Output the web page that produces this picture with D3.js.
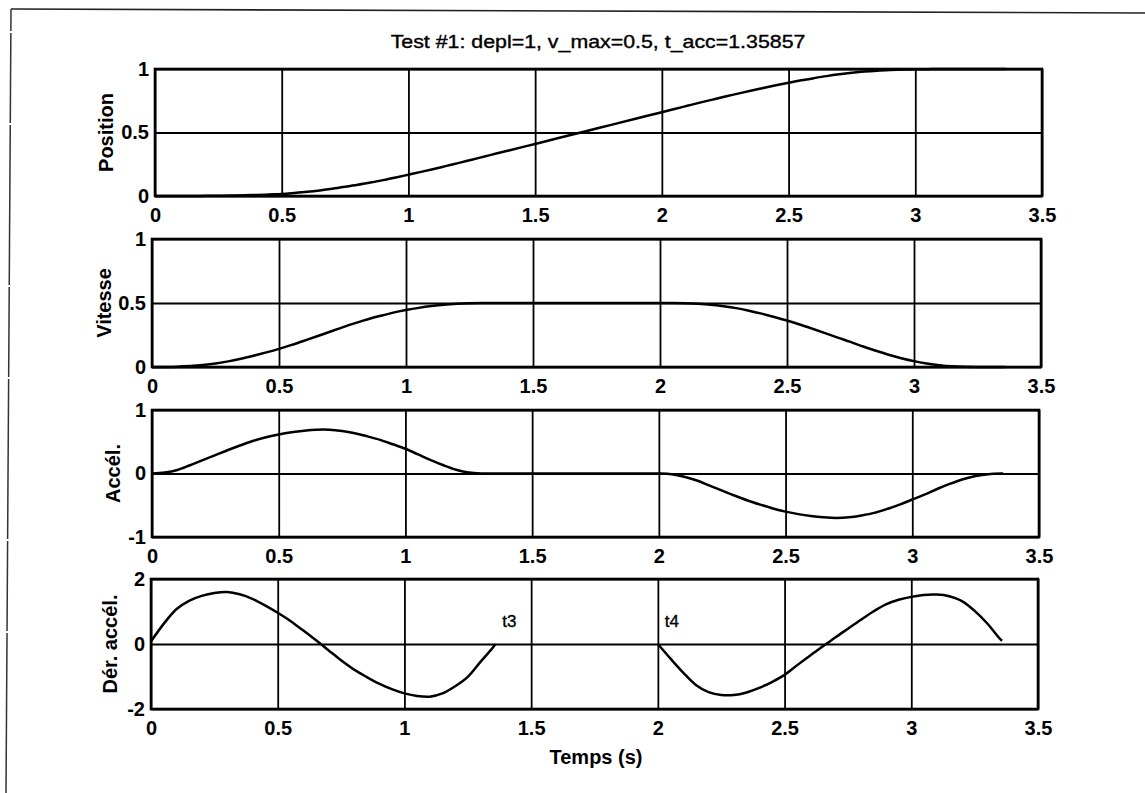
<!DOCTYPE html>
<html>
<head>
<meta charset="utf-8">
<script src="https://cdn.jsdelivr.net/npm/d3@7/dist/d3.min.js"></script>
<style>
  html, body { margin: 0; padding: 0; background: #fff; }
  svg { display: block; }
  text { font-family: "Liberation Sans", Arial, Helvetica, sans-serif; fill: #000; }
</style>
</head>
<body>
<svg id="fig" width="1145" height="793"></svg>
<script>
// Motion profile sampled in time (s): acceleration phase, constant-speed phase, deceleration phase
const temps = [0, 0.05, 0.1, 0.15, 0.2, 0.25, 0.3, 0.35, 0.4, 0.45, 0.5, 0.55, 0.6, 0.65, 0.7, 0.75,
               0.8, 0.85, 0.9, 0.95, 1.0, 1.05, 1.1, 1.15, 1.2, 1.25, 1.3, 1.35, 1.35857,
               1.4, 1.5, 1.6, 1.7, 1.8, 1.9,
               2.0, 2.05, 2.1, 2.15, 2.2, 2.25, 2.3, 2.35, 2.4, 2.45, 2.5, 2.55, 2.6, 2.65, 2.7, 2.75,
               2.8, 2.85, 2.9, 2.95, 3.0, 3.05, 3.1, 3.15, 3.2, 3.25, 3.3, 3.35, 3.35857];

const position = [0, 0, 0, 0, 0.001, 0.002, 0.003, 0.005, 0.008, 0.012, 0.016, 0.024, 0.033, 0.044, 0.057, 0.072,
                  0.088, 0.106, 0.125, 0.146, 0.168, 0.19, 0.213, 0.237, 0.261, 0.286, 0.311, 0.336, 0.34,
                  0.36, 0.41, 0.46, 0.51, 0.56, 0.61,
                  0.66, 0.685, 0.71, 0.735, 0.759, 0.783, 0.806, 0.829, 0.851, 0.872, 0.892, 0.911, 0.928, 0.944, 0.958, 0.97,
                  0.98, 0.987, 0.992, 0.996, 0.998, 0.999, 1, 1, 1, 1, 1, 1, 1];

const vitesse = [0, 0, 0.002, 0.007, 0.015, 0.027, 0.044, 0.064, 0.088, 0.114, 0.142, 0.173, 0.206, 0.24, 0.275, 0.31,
                 0.343, 0.373, 0.4, 0.425, 0.445, 0.462, 0.476, 0.487, 0.494, 0.498, 0.5, 0.5, 0.5,
                 0.5, 0.5, 0.5, 0.5, 0.5, 0.5,
                 0.5, 0.5, 0.498, 0.494, 0.487, 0.475, 0.46, 0.44, 0.417, 0.391, 0.363, 0.332, 0.299, 0.265, 0.23, 0.196,
                 0.16, 0.127, 0.096, 0.069, 0.046, 0.028, 0.014, 0.005, 0.001, 0, 0, 0, 0];

const acceleration = [0, 0.015, 0.055, 0.13, 0.21, 0.29, 0.37, 0.445, 0.515, 0.57, 0.615, 0.65, 0.675, 0.69, 0.69, 0.67,
                      0.635, 0.585, 0.53, 0.46, 0.39, 0.3, 0.21, 0.13, 0.06, 0.015, 0, 0, 0,
                      0, 0, 0, 0, 0, 0,
                      0, -0.01, -0.05, -0.11, -0.19, -0.27, -0.35, -0.425, -0.49, -0.55, -0.6, -0.64, -0.67, -0.69, -0.7, -0.69,
                      -0.66, -0.62, -0.56, -0.49, -0.41, -0.33, -0.24, -0.16, -0.09, -0.04, -0.01, 0, 0];

// Jerk: two separate arcs (t = 0 .. t3 and t4 .. t4 + t_acc)
const derAcceleration = [0.08, 0.62, 1.07, 1.33, 1.48, 1.57, 1.6, 1.53, 1.39, 1.19, 0.96, 0.71, 0.42, 0.12, -0.19, -0.5,
                         -0.78, -1.01, -1.22, -1.39, -1.52, -1.6, -1.62, -1.52, -1.3, -1.01, -0.55, -0.1, 0,
                         null, null, null, null, null, null,
                         0, -0.45, -0.88, -1.26, -1.48, -1.57, -1.57, -1.49, -1.35, -1.17, -0.95, -0.65, -0.36, -0.08, 0.2, 0.47,
                         0.74, 1.0, 1.22, 1.36, 1.45, 1.51, 1.52, 1.47, 1.32, 1.02, 0.63, 0.16, 0.1];

const xTicks = [0, 0.5, 1, 1.5, 2, 2.5, 3, 3.5];
const xTickLabels = ["0", "0.5", "1", "1.5", "2", "2.5", "3", "3.5"];

const yTicksPosition = [0, 0.5, 1];
const yLabelsPosition = ["0", "0.5", "1"];
const yTicksVitesse = [0, 0.5, 1];
const yLabelsVitesse = ["0", "0.5", "1"];
const yTicksAccel = [-1, 0, 1];
const yLabelsAccel = ["-1", "0", "1"];
const yTicksDer = [-2, 0, 2];
const yLabelsDer = ["-2", "0", "2"];

const titresY = ["Position", "Vitesse", "Accél.", "Dér. accél."];
const titre = "Test #1: depl=1, v_max=0.5, t_acc=1.35857";
const titreX = "Temps (s)";

const tAcc = 1.35857;
const tDecel = 2;
const reperes = [
  { label: "t3", t: tAcc, v: 0.7 },
  { label: "t4", t: tDecel, v: 0.7 }
];

// ---- layout ----
const svg = d3.select("#fig");

const panneaux = [
  { serie: position, dom: [0, 1], ticks: yTicksPosition, labels: yLabelsPosition, titreY: titresY[0],
    top: 69, bottom: 196, left: 155, right: 1042, labelX: 106 },
  { serie: vitesse, dom: [0, 1], ticks: yTicksVitesse, labels: yLabelsVitesse, titreY: titresY[1],
    top: 239, bottom: 367, left: 152, right: 1041, labelX: 104 },
  { serie: acceleration, dom: [-1, 1], ticks: yTicksAccel, labels: yLabelsAccel, titreY: titresY[2],
    top: 410, bottom: 537, left: 152, right: 1039, labelX: 113 },
  { serie: derAcceleration, dom: [-2, 2], ticks: yTicksDer, labels: yLabelsDer, titreY: titresY[3],
    top: 579, bottom: 709, left: 151, right: 1038, labelX: 110 }
];

// page border (left and top edges)
svg.append("path")
  .attr("d", "M11,9 L1145,13")
  .attr("fill", "none")
  .attr("stroke", "#222")
  .attr("stroke-width", 1.6);
svg.append("path")
  .attr("d", "M6,793 L11,9")
  .attr("fill", "none")
  .attr("stroke", "#333")
  .attr("stroke-width", 1.5)
  .attr("stroke-dasharray", "160,2,90,2");

// title
svg.append("text")
  .attr("transform", "translate(598,48) scale(1.22,1)")
  .attr("text-anchor", "middle")
  .attr("font-size", 17.5)
  .attr("stroke", "#000")
  .attr("stroke-width", 0.35)
  .text(titre);

panneaux.forEach((p, k) => {
  const x = d3.scaleLinear().domain([0, 3.5]).range([p.left, p.right]);
  const y = d3.scaleLinear().domain(p.dom).range([p.bottom, p.top]);
  const w = p.right - p.left, h = p.bottom - p.top;
  const g = svg.append("g");

  // vertical grid + x tick labels
  const ax = g.append("g")
    .attr("transform", `translate(0,${p.bottom})`)
    .call(d3.axisBottom(x).tickValues(xTicks).tickFormat((d, i) => xTickLabels[i])
      .tickSize(-h).tickPadding(12));
  ax.select(".domain").remove();
  ax.selectAll(".tick line").attr("stroke", "#000").attr("stroke-width", 1.8);
  ax.selectAll(".tick text")
    .attr("font-size", 20).attr("font-weight", "bold")
    .attr("font-family", "'Liberation Sans', Arial, sans-serif")
    .attr("fill", "#000");

  // horizontal grid + y tick labels
  const ay = g.append("g")
    .attr("transform", `translate(${p.left},0)`)
    .call(d3.axisLeft(y).tickValues(p.ticks).tickFormat((d, i) => p.labels[i])
      .tickSize(-w).tickPadding(6));
  ay.select(".domain").remove();
  ay.selectAll(".tick line").attr("stroke", "#000").attr("stroke-width", 1.8);
  ay.selectAll(".tick text")
    .attr("font-size", 20).attr("font-weight", "bold")
    .attr("font-family", "'Liberation Sans', Arial, sans-serif")
    .attr("fill", "#000");

  // axes box
  g.append("rect")
    .attr("x", p.left).attr("y", p.top)
    .attr("width", w).attr("height", h)
    .attr("fill", "none").attr("stroke", "#000").attr("stroke-width", 2.6);

  // curve
  const pts = temps.map((t, i) => ({ t: t, v: p.serie[i] }));
  const line = d3.line()
    .defined(d => d.v !== null)
    .x(d => x(d.t))
    .y(d => y(d.v))
    .curve(d3.curveCatmullRom.alpha(0.5));
  g.append("path")
    .datum(pts)
    .attr("d", line)
    .attr("fill", "none")
    .attr("stroke", "#000")
    .attr("stroke-width", 2.5)
    .attr("stroke-linejoin", "round");

  // y axis title
  g.append("text")
    .attr("transform", `translate(${p.labelX},${(p.top + p.bottom) / 2}) rotate(-90)`)
    .attr("text-anchor", "middle")
    .attr("dominant-baseline", "central")
    .attr("font-size", 20).attr("font-weight", "bold")
    .text(p.titreY);

  // phase markers on the jerk panel
  if (k === 3) {
    reperes.forEach(r => {
      g.append("text")
        .attr("x", x(r.t) + 7)
        .attr("y", y(r.v))
        .attr("dominant-baseline", "central")
        .attr("font-size", 17)
        .attr("stroke", "#000")
        .attr("stroke-width", 0.35)
        .text(r.label);
    });
    // x axis title
    svg.append("text")
      .attr("x", 596).attr("y", 764)
      .attr("text-anchor", "middle")
      .attr("font-size", 20).attr("font-weight", "bold")
      .text(titreX);
  }
});
</script>
</body>
</html>
